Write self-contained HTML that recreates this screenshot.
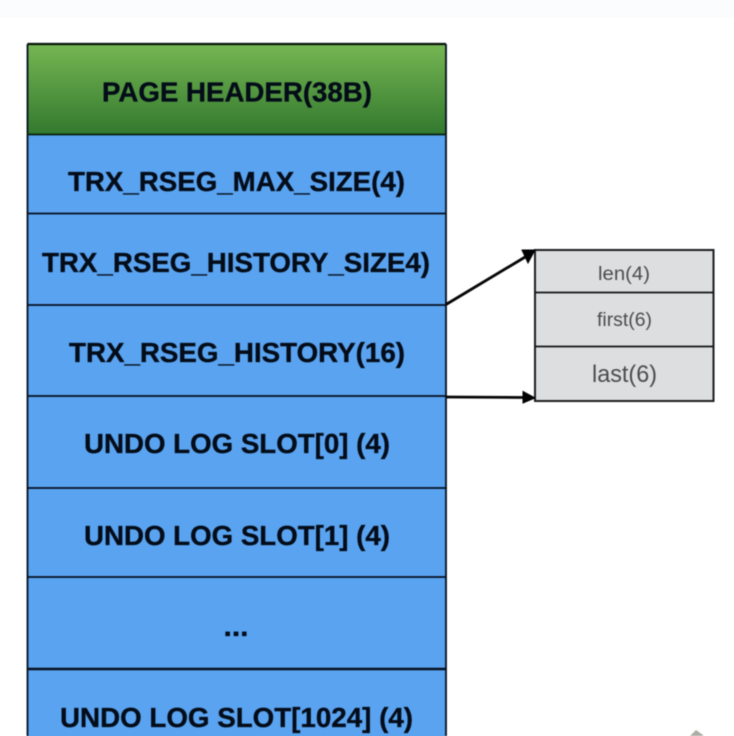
<!DOCTYPE html>
<html><head><meta charset="utf-8"><style>
html,body{margin:0;padding:0;background:#fff;width:734px;height:736px;overflow:hidden}
svg{display:block;position:absolute;left:0;top:0}
text{font-family:"Liberation Sans",sans-serif}
.b{font-weight:bold;font-size:28px;fill:#030c18;stroke:#030c18;stroke-width:.35px}
.g{font-size:19px;fill:#4a4c4e}
</style></head><body>
<svg width="734" height="736" viewBox="0 0 734 736" xmlns="http://www.w3.org/2000/svg">
<defs><linearGradient id="h" x1="0" y1="0" x2="0" y2="1"><stop offset="0" stop-color="#76b653"/><stop offset="1" stop-color="#33792f"/></linearGradient></defs>
<rect x="0" y="0" width="734" height="18" fill="#fbfcfe"/>
<g style="filter:blur(.5px)">
<rect x="27.500" y="134" width="418.500" height="610" fill="#5aa3f0"/>
<rect x="27.500" y="44" width="418.500" height="90" fill="url(#h)"/>
<g stroke="#04101e" fill="none">
<path d="M27.500 44H446" stroke-width="2.200" stroke="#061208"/>
<path d="M27.500 44V736M446 44V736" stroke-width="1.800"/>
<path d="M27.500 134.500H446" stroke-width="1.800" stroke="#06200f"/>
<path d="M27.500 213.500H446M27.500 305H446M27.500 396H446M27.500 488H446M27.500 577H446" stroke-width="1.800"/>
<path d="M27.500 669H446" stroke-width="2.400"/>
</g>
<text class="b" x="102" y="101.500" textLength="270" lengthAdjust="spacingAndGlyphs">PAGE HEADER(38B)</text>
<text class="b" x="68" y="191" textLength="337" lengthAdjust="spacingAndGlyphs">TRX_RSEG_MAX_SIZE(4)</text>
<text class="b" x="42" y="272" textLength="388" lengthAdjust="spacingAndGlyphs">TRX_RSEG_HISTORY_SIZE4)</text>
<text class="b" x="69" y="362" textLength="336" lengthAdjust="spacingAndGlyphs">TRX_RSEG_HISTORY(16)</text>
<text class="b" x="84" y="453" textLength="306" lengthAdjust="spacingAndGlyphs">UNDO LOG SLOT[0] (4)</text>
<text class="b" x="84" y="545" textLength="306" lengthAdjust="spacingAndGlyphs">UNDO LOG SLOT[1] (4)</text>
<text class="b" x="223.500" y="636" textLength="25" lengthAdjust="spacingAndGlyphs">...</text>
<text class="b" x="60" y="727" textLength="353" lengthAdjust="spacingAndGlyphs">UNDO LOG SLOT[1024] (4)</text>
<rect x="535" y="250" width="178.500" height="151" fill="#dcdee0" stroke="#1c1e20" stroke-width="2"/>
<path d="M535 292.500H713.500M535 346.500H713.500" stroke="#111315" stroke-width="1.800"/>
<text class="g" x="598" y="280" textLength="52" lengthAdjust="spacingAndGlyphs">len(4)</text>
<text class="g" x="597" y="326" textLength="55" lengthAdjust="spacingAndGlyphs">first(6)</text>
<text class="g" x="592" y="382" style="font-size:24px" textLength="65" lengthAdjust="spacingAndGlyphs">last(6)</text>
<path d="M446 304.500L526 256.500" stroke="#050505" stroke-width="2.800" fill="none"/>
<path d="M446 397L526 397.500" stroke="#050505" stroke-width="2.800" fill="none"/>
<path d="M535 250L522 250L528 263Z" fill="#000" stroke="#000" stroke-width="1"/>
<path d="M535 398L523 391.500V403Z" fill="#000" stroke="#000" stroke-width="1"/>
<path d="M690 736L696 730L703 735V736Z" fill="#8a8a80" opacity=".7"/>
</g>
</svg>
</body></html>
